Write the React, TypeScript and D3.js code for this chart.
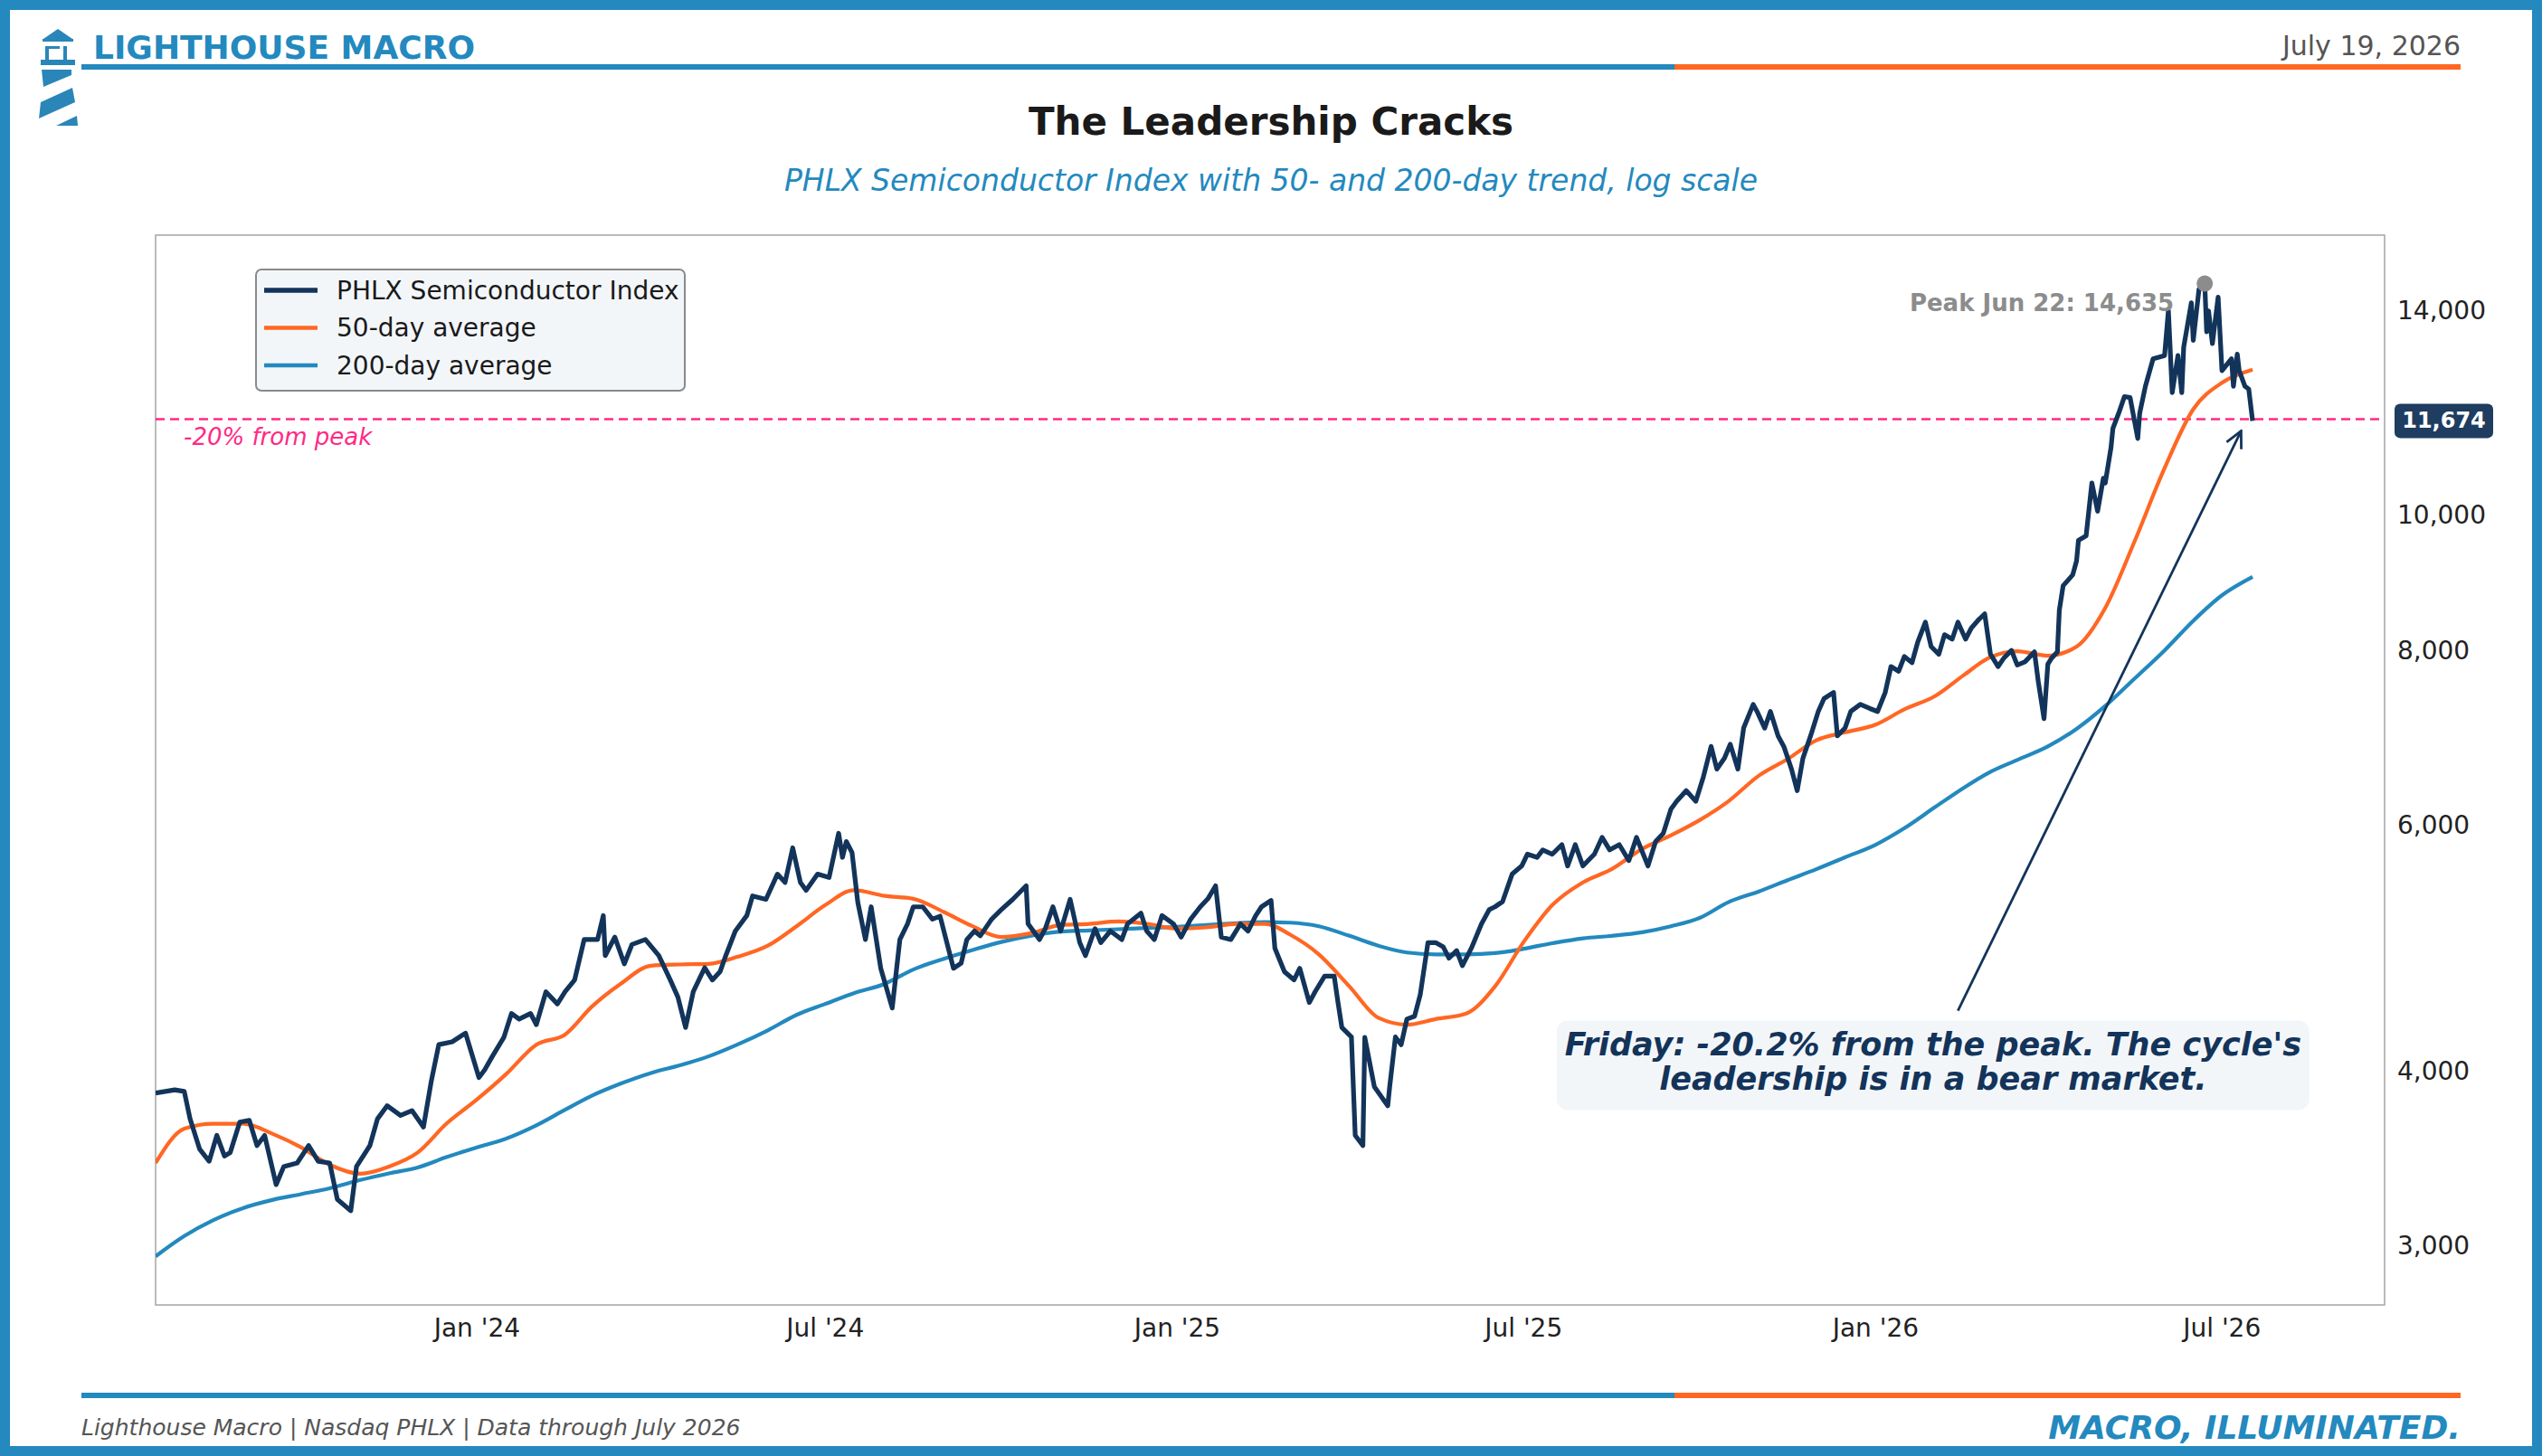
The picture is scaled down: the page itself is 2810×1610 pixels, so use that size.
import * as d3 from 'd3';

const W = 2810;
const H = 1610;
const FONT = '"DejaVu Sans", Verdana, sans-serif';

const NAVY = '#13345A';
const ORANGE = '#FF6723';
const OCEAN = '#2389BE';
const PINK = '#FF2A85';
const GREY = '#8C8C8C';

// PHLX Semiconductor Index closes
const phlxCloses: [string, number][] = [
  ['2023-07-17', 3860], ['2023-07-27', 3880], ['2023-08-01', 3870], ['2023-08-04', 3700], ['2023-08-09', 3520],
  ['2023-08-14', 3450], ['2023-08-18', 3600], ['2023-08-22', 3480], ['2023-08-25', 3500], ['2023-08-30', 3680],
  ['2023-09-04', 3690], ['2023-09-08', 3540], ['2023-09-12', 3600], ['2023-09-18', 3320], ['2023-09-22', 3420],
  ['2023-09-29', 3440], ['2023-10-05', 3540], ['2023-10-10', 3450], ['2023-10-16', 3440], ['2023-10-20', 3240],
  ['2023-10-27', 3180], ['2023-10-30', 3420], ['2023-11-06', 3540], ['2023-11-10', 3700], ['2023-11-15', 3780],
  ['2023-11-22', 3720], ['2023-11-28', 3750], ['2023-12-04', 3650], ['2023-12-08', 3930], ['2023-12-12', 4180],
  ['2023-12-19', 4200], ['2023-12-26', 4260], ['2024-01-02', 3960], ['2024-01-05', 4010], ['2024-01-09', 4100],
  ['2024-01-15', 4230], ['2024-01-19', 4400], ['2024-01-23', 4360], ['2024-01-29', 4400], ['2024-02-01', 4320],
  ['2024-02-06', 4560], ['2024-02-12', 4470], ['2024-02-16', 4560], ['2024-02-21', 4650], ['2024-02-26', 4970],
  ['2024-03-04', 4970], ['2024-03-07', 5170], ['2024-03-08', 4840], ['2024-03-13', 4990], ['2024-03-18', 4775],
  ['2024-03-22', 4930], ['2024-03-29', 4970], ['2024-04-05', 4840], ['2024-04-11', 4650], ['2024-04-15', 4520],
  ['2024-04-19', 4300], ['2024-04-23', 4560], ['2024-04-29', 4745], ['2024-05-03', 4650], ['2024-05-07', 4713],
  ['2024-05-10', 4840], ['2024-05-15', 5040], ['2024-05-21', 5170], ['2024-05-24', 5340], ['2024-05-31', 5310],
  ['2024-06-06', 5535], ['2024-06-10', 5460], ['2024-06-14', 5780], ['2024-06-18', 5460], ['2024-06-21', 5390],
  ['2024-06-27', 5535], ['2024-07-03', 5505], ['2024-07-08', 5920], ['2024-07-10', 5690], ['2024-07-12', 5840],
  ['2024-07-15', 5735], ['2024-07-18', 5285], ['2024-07-22', 4970], ['2024-07-25', 5245], ['2024-07-30', 4740],
  ['2024-08-05', 4440], ['2024-08-09', 4970], ['2024-08-13', 5100], ['2024-08-16', 5245], ['2024-08-21', 5245],
  ['2024-08-26', 5140], ['2024-08-30', 5165], ['2024-09-06', 4740], ['2024-09-10', 4780], ['2024-09-13', 4970],
  ['2024-09-17', 5040], ['2024-09-20', 5000], ['2024-09-26', 5140], ['2024-10-01', 5220], ['2024-10-07', 5310],
  ['2024-10-14', 5430], ['2024-10-15', 5100], ['2024-10-21', 4970], ['2024-10-24', 5060], ['2024-10-28', 5245],
  ['2024-11-01', 5040], ['2024-11-06', 5310], ['2024-11-11', 4945], ['2024-11-14', 4840], ['2024-11-19', 5060],
  ['2024-11-22', 4945], ['2024-11-27', 5040], ['2024-12-03', 4970], ['2024-12-06', 5100], ['2024-12-13', 5190],
  ['2024-12-16', 5040], ['2024-12-20', 4970], ['2024-12-24', 5170], ['2024-12-30', 5100], ['2025-01-03', 4990],
  ['2025-01-08', 5140], ['2025-01-13', 5245], ['2025-01-17', 5315], ['2025-01-21', 5430], ['2025-01-24', 4990],
  ['2025-01-29', 4970], ['2025-02-03', 5100], ['2025-02-07', 5040], ['2025-02-11', 5170], ['2025-02-14', 5245],
  ['2025-02-19', 5300], ['2025-02-21', 4900], ['2025-02-26', 4713], ['2025-03-03', 4650], ['2025-03-06', 4740],
  ['2025-03-11', 4480], ['2025-03-14', 4560], ['2025-03-19', 4680], ['2025-03-24', 4680], ['2025-03-26', 4480],
  ['2025-03-28', 4300], ['2025-04-02', 4233], ['2025-04-04', 3600], ['2025-04-08', 3540], ['2025-04-09', 4230],
  ['2025-04-14', 3900], ['2025-04-21', 3780], ['2025-04-22', 3900], ['2025-04-25', 4233], ['2025-04-28', 4180],
  ['2025-05-01', 4360], ['2025-05-05', 4380], ['2025-05-08', 4540], ['2025-05-12', 4945], ['2025-05-16', 4945],
  ['2025-05-20', 4910], ['2025-05-23', 4820], ['2025-05-27', 4880], ['2025-05-30', 4760], ['2025-06-04', 4910],
  ['2025-06-09', 5100], ['2025-06-13', 5220], ['2025-06-16', 5245], ['2025-06-20', 5290], ['2025-06-25', 5535],
  ['2025-06-30', 5610], ['2025-07-03', 5720], ['2025-07-08', 5690], ['2025-07-11', 5760], ['2025-07-16', 5720],
  ['2025-07-21', 5810], ['2025-07-24', 5610], ['2025-07-28', 5810], ['2025-08-01', 5610], ['2025-08-07', 5720],
  ['2025-08-11', 5880], ['2025-08-15', 5760], ['2025-08-20', 5810], ['2025-08-25', 5660], ['2025-08-29', 5880],
  ['2025-09-04', 5610], ['2025-09-08', 5840], ['2025-09-12', 5920], ['2025-09-16', 6160], ['2025-09-19', 6240],
  ['2025-09-24', 6350], ['2025-09-29', 6240], ['2025-10-03', 6500], ['2025-10-07', 6830], ['2025-10-10', 6580],
  ['2025-10-14', 6700], ['2025-10-17', 6855], ['2025-10-21', 6580], ['2025-10-24', 7040], ['2025-10-29', 7320],
  ['2025-10-31', 7235], ['2025-11-04', 7040], ['2025-11-07', 7235], ['2025-11-11', 6950], ['2025-11-14', 6830],
  ['2025-11-18', 6580], ['2025-11-21', 6350], ['2025-11-24', 6700], ['2025-11-28', 6950], ['2025-12-02', 7235],
  ['2025-12-05', 7390], ['2025-12-10', 7465], ['2025-12-12', 6950], ['2025-12-16', 7040], ['2025-12-19', 7235],
  ['2025-12-24', 7320], ['2025-12-29', 7270], ['2026-01-02', 7235], ['2026-01-06', 7465], ['2026-01-09', 7790],
  ['2026-01-13', 7730], ['2026-01-16', 7920], ['2026-01-20', 7840], ['2026-01-23', 8110], ['2026-01-27', 8380],
  ['2026-01-30', 8050], ['2026-02-03', 7950], ['2026-02-06', 8210], ['2026-02-10', 8150], ['2026-02-13', 8380],
  ['2026-02-17', 8150], ['2026-02-20', 8300], ['2026-02-24', 8420], ['2026-02-27', 8495], ['2026-03-02', 7950],
  ['2026-03-06', 7790], ['2026-03-09', 7900], ['2026-03-13', 8000], ['2026-03-16', 7810], ['2026-03-20', 7850],
  ['2026-03-25', 7980], ['2026-03-27', 7600], ['2026-03-30', 7150], ['2026-04-01', 7820], ['2026-04-03', 7900],
  ['2026-04-06', 7980], ['2026-04-07', 8550], ['2026-04-09', 8900], ['2026-04-14', 9060], ['2026-04-16', 9270],
  ['2026-04-17', 9590], ['2026-04-21', 9660], ['2026-04-24', 10540], ['2026-04-27', 10060], ['2026-04-30', 10620],
  ['2026-05-01', 10540], ['2026-05-04', 11170], ['2026-05-05', 11530], ['2026-05-08', 11820], ['2026-05-11', 12150],
  ['2026-05-14', 12130], ['2026-05-18', 11340], ['2026-05-19', 11820], ['2026-05-22', 12360], ['2026-05-26', 12930],
  ['2026-06-01', 13000], ['2026-06-03', 14000], ['2026-06-05', 12230], ['2026-06-08', 13000], ['2026-06-10', 12230],
  ['2026-06-11', 13180], ['2026-06-15', 14180], ['2026-06-16', 13330], ['2026-06-19', 14500], ['2026-06-22', 14635],
  ['2026-06-23', 13520], ['2026-06-24', 13990], ['2026-06-26', 13260], ['2026-06-29', 14310], ['2026-07-01', 12680],
  ['2026-07-06', 12930], ['2026-07-07', 12360], ['2026-07-09', 13030], ['2026-07-10', 12680], ['2026-07-13', 12360],
  ['2026-07-15', 12300], ['2026-07-17', 11674],
];

// trend lines, sampled twice a month
const maDates = [
  '2023-07-17', '2023-08-01', '2023-08-16', '2023-09-01', '2023-09-16', '2023-10-01', '2023-10-16', '2023-11-01',
  '2023-11-16', '2023-12-01', '2023-12-16', '2024-01-01', '2024-01-16', '2024-02-01', '2024-02-16', '2024-03-01',
  '2024-03-16', '2024-04-01', '2024-04-16', '2024-05-01', '2024-05-16', '2024-06-01', '2024-06-16', '2024-07-01',
  '2024-07-16', '2024-08-01', '2024-08-16', '2024-09-01', '2024-09-16', '2024-10-01', '2024-10-16', '2024-11-01',
  '2024-11-16', '2024-12-01', '2024-12-16', '2025-01-01', '2025-01-16', '2025-02-01', '2025-02-16', '2025-03-01',
  '2025-03-16', '2025-04-01', '2025-04-16', '2025-05-01', '2025-05-16', '2025-06-01', '2025-06-16', '2025-07-01',
  '2025-07-16', '2025-08-01', '2025-08-16', '2025-09-01', '2025-09-16', '2025-10-01', '2025-10-16', '2025-11-01',
  '2025-11-16', '2025-12-01', '2025-12-16', '2026-01-01', '2026-01-16', '2026-02-01', '2026-02-16', '2026-03-01',
  '2026-03-16', '2026-04-01', '2026-04-16', '2026-05-01', '2026-05-16', '2026-06-01', '2026-06-16', '2026-07-01',
  '2026-07-17',
];
const ma50 = [
  3440, 3640, 3670, 3670, 3610, 3530, 3430, 3380, 3420, 3500, 3670, 3820, 3980, 4180, 4250, 4450,
  4620, 4760, 4770, 4775, 4830, 4920, 5080, 5260, 5390, 5340, 5315, 5200, 5080, 4990, 5020, 5090,
  5100, 5120, 5100, 5060, 5070, 5100, 5100, 5010, 4850, 4600, 4370, 4320, 4360, 4400, 4600, 4950,
  5260, 5460, 5580, 5770, 5900, 6050, 6240, 6510, 6690, 6900, 6990, 7080, 7260, 7420, 7680, 7900,
  7990, 7930, 8050, 8580, 9550, 10800, 11900, 12430, 12700,
];
const ma200 = [
  2950, 3050, 3130, 3195, 3237, 3268, 3300, 3345, 3382, 3415, 3473, 3530, 3580, 3660, 3755, 3843,
  3920, 3990, 4040, 4100, 4180, 4280, 4390, 4470, 4550, 4620, 4730, 4815, 4885, 4950, 5000, 5035,
  5045, 5055, 5065, 5075, 5090, 5105, 5115, 5110, 5080, 5000, 4920, 4865, 4850, 4850, 4860, 4895,
  4940, 4980, 5000, 5030, 5080, 5150, 5285, 5380, 5480, 5580, 5690, 5810, 5970, 6180, 6380, 6540,
  6680, 6830, 7030, 7300, 7630, 8000, 8400, 8760, 9030,
];

const yTicks = [3000, 4000, 6000, 8000, 10000, 14000];
const xTickDates = ['2024-01-01', '2024-07-01', '2025-01-01', '2025-07-01', '2026-01-01', '2026-07-01'];
const xTickLabels = ["Jan '24", "Jul '24", "Jan '25", "Jul '25", "Jan '26", "Jul '26"];

const peakPoint: [string, number] = ['2026-06-22', 14635];
const lastPoint: [string, number] = ['2026-07-17', 11674];
const drawdown = 0.2;

const legendItems = [
  { label: 'PHLX Semiconductor Index', color: NAVY, width: 5.5 },
  { label: '50-day average', color: ORANGE, width: 4.5 },
  { label: '200-day average', color: OCEAN, width: 4.5 },
];

const calloutAt: [string, number] = ['2026-01-31', 4044];
const calloutLines = ["Friday: -20.2% from the peak. The cycle's", 'leadership is in a bear market.'];
const arrowFrom: [string, number] = ['2026-02-13', 4420];
const arrowTo: [string, number] = ['2026-07-11', 11480];

const parse = d3.utcParse('%Y-%m-%d');
const fmt = d3.format(',');

type Pt = { date: Date; value: number };

export default function App() {
  const plot = { left: 172, top: 260, right: 2636, bottom: 1443 };

  const x = d3
    .scaleUtc()
    .domain([parse('2023-07-17')!, parse('2026-09-24')!])
    .range([plot.left, plot.right]);
  const y = d3.scaleLog().domain([2723, 15850]).range([plot.bottom, plot.top]);

  const price: Pt[] = phlxCloses.map(([d, v]) => ({ date: parse(d)!, value: v }));
  const fast: Pt[] = maDates.map((d, i) => ({ date: parse(d)!, value: ma50[i] }));
  const slow: Pt[] = maDates.map((d, i) => ({ date: parse(d)!, value: ma200[i] }));

  const rawLine = d3
    .line<Pt>()
    .x((d) => x(d.date))
    .y((d) => y(d.value));
  const smoothLine = d3
    .line<Pt>()
    .x((d) => x(d.date))
    .y((d) => y(d.value))
    .curve(d3.curveMonotoneX);

  const threshold = peakPoint[1] * (1 - drawdown);
  const peakX = x(parse(peakPoint[0])!);
  const peakY = y(peakPoint[1]);
  const lastY = y(lastPoint[1]);

  const cx = x(parse(calloutAt[0])!);
  const cy = y(calloutAt[1]);
  const ax1 = x(parse(arrowFrom[0])!);
  const ay1 = y(arrowFrom[1]);
  const ax2 = x(parse(arrowTo[0])!);
  const ay2 = y(arrowTo[1]);

  const splitX = 1851;

  return (
    <div style={{ position: 'absolute', left: 0, top: 0 }}>
      <svg width={W} height={H} style={{ display: 'block', fontFamily: FONT }}>
        <defs>
          <clipPath id="plot-clip">
            <rect x={plot.left} y={plot.top} width={plot.right - plot.left} height={plot.bottom - plot.top} />
          </clipPath>
          <marker id="arrow" viewBox="0 0 22 22" refX="20" refY="11" markerWidth="22" markerHeight="22" markerUnits="userSpaceOnUse" orient="auto">
            <path d="M2,2 L20,11 L2,20" fill="none" stroke={NAVY} strokeWidth={2.8} />
          </marker>
        </defs>

        <rect x={0} y={0} width={W} height={H} fill="#fff" />
        <rect x={5.5} y={5.5} width={W - 11} height={H - 11} fill="none" stroke={OCEAN} strokeWidth={11} />

        {/* lighthouse mark */}
        <g fill="#2A86B8">
          <polygon points="64,32 80,43 48,43" />
          <rect x={47} y={43} width={34} height={3} />
          <rect x={50} y={51} width={4} height={16} />
          <rect x={50} y={51} width={16} height={3} />
          <rect x={70} y={51} width={4} height={16} />
          <rect x={45} y={66} width={38} height={6} />
          <polygon points="46,77 79,77 79,83 48,96" />
          <polygon points="80,97 83,113 43,131 45,113" />
          <polygon points="85,128 86,139 62,139" />
        </g>

        <text x={103} y={65} fontSize={36} fontWeight="bold" fill={OCEAN}>
          LIGHTHOUSE MACRO
        </text>
        <text x={2720} y={61} fontSize={30} fill="#555" textAnchor="end">
          July 19, 2026
        </text>
        <line x1={90} x2={splitX} y1={74} y2={74} stroke={OCEAN} strokeWidth={6} />
        <line x1={splitX} x2={2720} y1={74} y2={74} stroke={ORANGE} strokeWidth={6} />

        <text x={1405} y={149} fontSize={42} fontWeight="bold" fill="#1a1a1a" textAnchor="middle">
          The Leadership Cracks
        </text>
        <text x={1405} y={211} fontSize={33} fontStyle="italic" fill={OCEAN} textAnchor="middle">
          PHLX Semiconductor Index with 50- and 200-day trend, log scale
        </text>

        {/* plot frame */}
        <rect
          x={plot.left}
          y={plot.top}
          width={plot.right - plot.left}
          height={plot.bottom - plot.top}
          fill="none"
          stroke="#aaa"
          strokeWidth={1.6}
        />

        {/* axes */}
        {yTicks.map((t) => (
          <text key={t} x={plot.right + 14} y={y(t)} fontSize={28} fill="#222" dominantBaseline="central">
            {fmt(t)}
          </text>
        ))}
        {xTickDates.map((d, i) => (
          <text key={d} x={x(parse(d)!)} y={plot.bottom + 35} fontSize={28} fill="#222" textAnchor="middle">
            {xTickLabels[i]}
          </text>
        ))}

        <g clipPath="url(#plot-clip)">
          <line
            x1={plot.left}
            x2={plot.right}
            y1={y(threshold)}
            y2={y(threshold)}
            stroke={PINK}
            strokeWidth={2.6}
            strokeDasharray="10 6"
          />
          <path d={smoothLine(slow) ?? ''} fill="none" stroke={OCEAN} strokeWidth={4.2} />
          <path d={smoothLine(fast) ?? ''} fill="none" stroke={ORANGE} strokeWidth={4.2} />
          <path d={rawLine(price) ?? ''} fill="none" stroke={NAVY} strokeWidth={5.2} strokeLinejoin="round" />
        </g>

        <text x={203} y={y(threshold) + 29} fontSize={26} fontStyle="italic" fill={PINK}>
          -20% from peak
        </text>

        {/* peak marker */}
        <circle cx={peakX} cy={peakY} r={9} fill={GREY} />
        <text x={peakX - 34} y={peakY + 30} fontSize={26} fontWeight="bold" fill={GREY} textAnchor="end">
          Peak Jun 22: {fmt(peakPoint[1])}
        </text>

        {/* last value badge */}
        <rect x={plot.right + 11} y={lastY - 19} width={109} height={38} rx={6} fill="#1E3D60" />
        <text
          x={plot.right + 65.5}
          y={lastY}
          fontSize={24}
          fontWeight="bold"
          fill="#fff"
          textAnchor="middle"
          dominantBaseline="central"
        >
          {fmt(lastPoint[1])}
        </text>

        {/* legend */}
        <g>
          <rect x={283} y={298} width={474} height={134} rx={6} fill="#F3F6F9" stroke="#8a8a8a" strokeWidth={2} />
          {legendItems.map((item, i) => {
            const ly = 321 + i * 41.5;
            return (
              <g key={item.label}>
                <line x1={292} x2={351} y1={ly} y2={ly} stroke={item.color} strokeWidth={item.width} />
                <text x={372} y={ly} fontSize={28} fill="#1a1a1a" dominantBaseline="central">
                  {item.label}
                </text>
              </g>
            );
          })}
        </g>

        {/* callout */}
        <line x1={ax1} y1={ay1} x2={ax2} y2={ay2} stroke={NAVY} strokeWidth={2.8} markerEnd="url(#arrow)" />
        <rect x={cx - 416} y={cy - 49} width={832} height={99} rx={12} fill="#F3F6F9" />
        {calloutLines.map((line, i) => (
          <text
            key={line}
            x={cx}
            y={cy - 10 + i * 38}
            fontSize={35}
            fontWeight="bold"
            fontStyle="italic"
            fill={NAVY}
            textAnchor="middle"
          >
            {line}
          </text>
        ))}

        {/* footer */}
        <line x1={90} x2={splitX} y1={1543} y2={1543} stroke={OCEAN} strokeWidth={6} />
        <line x1={splitX} x2={2720} y1={1543} y2={1543} stroke={ORANGE} strokeWidth={6} />
        <text x={90} y={1587} fontSize={25} fontStyle="italic" fill="#555">
          Lighthouse Macro | Nasdaq PHLX | Data through July 2026
        </text>
        <text x={2720} y={1591} fontSize={36} fontWeight="bold" fontStyle="italic" fill={OCEAN} textAnchor="end">
          MACRO, ILLUMINATED.
        </text>
      </svg>
    </div>
  );
}
